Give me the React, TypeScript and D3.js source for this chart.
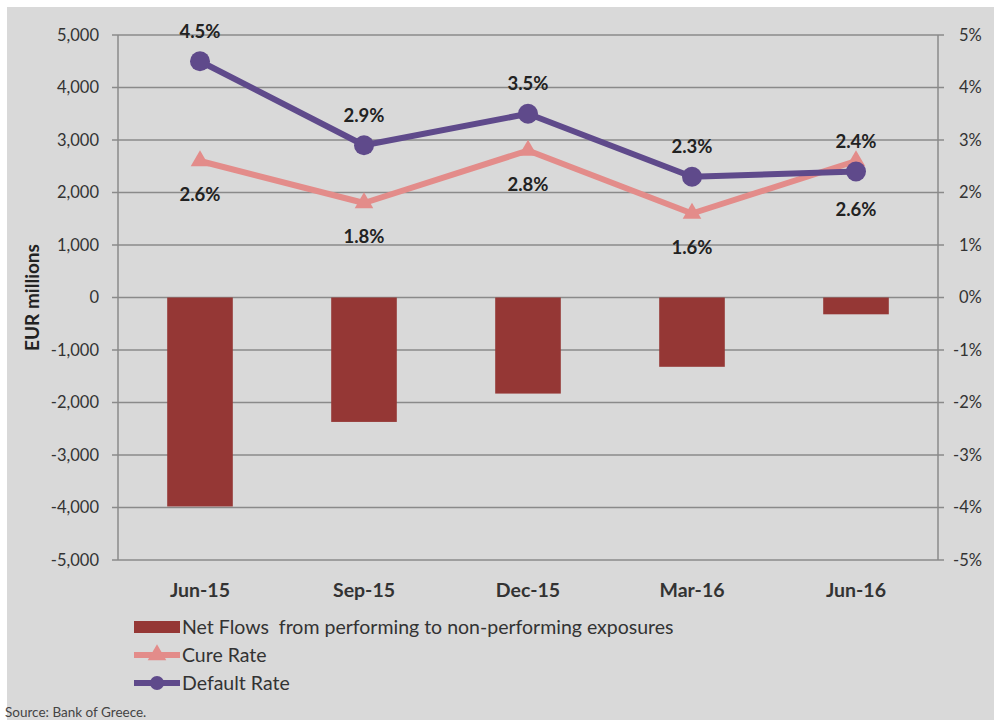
import React from "react";
import * as d3 from "d3";

const categories = ["Jun-15", "Sep-15", "Dec-15", "Mar-16", "Jun-16"];
const netFlows = [-3980, -2370, -1830, -1320, -320];
const cureRate = [2.6, 1.8, 2.8, 1.6, 2.6];
const defaultRate = [4.5, 2.9, 3.5, 2.3, 2.4];
const leftTicks = [5000, 4000, 3000, 2000, 1000, 0, -1000, -2000, -3000, -4000, -5000];
const rightTicks = [5, 4, 3, 2, 1, 0, -1, -2, -3, -4, -5];

const W = 994;
const H = 720;
const BG = "#d9d9d9";
const BAR = "#953735";
const CURE = "#e38c8a";
const DEF = "#5f4a8b";
const GRID = "#8a8a8a";
const FONT = "Lato, 'Open Sans', sans-serif";

export default function App() {
  const left = 118, right = 938, top = 35, bottom = 560;
  const x = d3.scaleBand<string>().domain(categories).range([left, right]).paddingInner(0.6).paddingOuter(0.3);
  const xc = d3.scalePoint<string>().domain(categories).range([left, right]).padding(0.5);
  const y = d3.scaleLinear().domain([-5000, 5000]).range([bottom, top]);
  const yr = d3.scaleLinear().domain([-5, 5]).range([bottom, top]);
  const line = d3.line<number>().x((_, i) => xc(categories[i])!).y((d) => yr(d));
  const fmt = (v: number) => d3.format(",")(v).replace("\u2212", "-");
  const tri = d3.symbol().type(d3.symbolTriangle).size(150)()!;

  return (
    <svg width={W} height={H} style={{ position: "absolute", left: 0, top: 0 }} fontFamily={FONT}>
      <rect x={0} y={0} width={W} height={H} fill="#ffffff" />
      <rect x={7} y={7} width={W - 7} height={H - 7} fill={BG} />
      {leftTicks.map((t) => (
        <g key={"g" + t}>
          <line x1={left - 6} x2={right + 6} y1={y(t)} y2={y(t)} stroke={GRID} strokeWidth={1.5} />
          <text x={99} y={y(t)} dy="0.35em" textAnchor="end" fontSize={16.5} fill="#333">{fmt(t)}</text>
        </g>
      ))}
      {rightTicks.map((t) => (
        <text key={"r" + t} x={t < 0 ? 953 : 959} y={yr(t)} dy="0.35em" textAnchor="start" fontSize={16.5} fill="#333">{t + "%"}</text>
      ))}
      <line x1={left} x2={left} y1={top} y2={bottom} stroke={GRID} strokeWidth={1.5} />
      <line x1={right} x2={right} y1={top} y2={bottom} stroke={GRID} strokeWidth={1.5} />
      {categories.map((c, i) => (
        <rect key={"b" + c} x={x(c)!} width={x.bandwidth()} y={y(Math.max(0, netFlows[i]))} height={Math.abs(y(netFlows[i]) - y(0))} fill={BAR} />
      ))}
      {categories.map((c) => (
        <text key={"c" + c} x={xc(c)!} y={590} dy="0.35em" textAnchor="middle" fontSize={19.5} fontWeight="bold" fill="#333">{c}</text>
      ))}
      <path d={line(cureRate)!} fill="none" stroke={CURE} strokeWidth={6} strokeLinejoin="round" />
      {cureRate.map((v, i) => (
        <path key={"t" + i} d={tri} transform={`translate(${xc(categories[i])},${yr(v)})`} fill={CURE} />
      ))}
      <path d={line(defaultRate)!} fill="none" stroke={DEF} strokeWidth={6} strokeLinejoin="round" />
      {defaultRate.map((v, i) => (
        <circle key={"d" + i} cx={xc(categories[i])!} cy={yr(v)} r={10} fill={DEF} />
      ))}
      {defaultRate.map((v, i) => (
        <text key={"dl" + i} x={xc(categories[i])!} y={yr(v) - 30} dy="0.35em" textAnchor="middle" fontSize={18.5} fontWeight="bold" fill="#222">{v.toFixed(1) + "%"}</text>
      ))}
      {cureRate.map((v, i) => (
        <text key={"cl" + i} x={xc(categories[i])!} y={yr(v) + (i === 4 ? 49 : 34)} dy="0.35em" textAnchor="middle" fontSize={18.5} fontWeight="bold" fill="#222">{v.toFixed(1) + "%"}</text>
      ))}
      <text transform={`translate(32,${(top + bottom) / 2}) rotate(-90)`} textAnchor="middle" dy="0.35em" fontSize={19} fontWeight="bold" fill="#222">EUR millions</text>
      <g>
        <rect x={134} y={621} width={46} height={12} fill={BAR} />
        <text x={182} y={627} dy="0.35em" fontSize={19.5} fill="#333" style={{ whiteSpace: "pre" }}>Net Flows  from performing to non-performing exposures</text>
        <line x1={134} x2={180} y1={655} y2={655} stroke={CURE} strokeWidth={6} />
        <path d={tri} transform="translate(157,655)" fill={CURE} />
        <text x={182} y={655} dy="0.35em" fontSize={19.5} fill="#333">Cure Rate</text>
        <line x1={134} x2={180} y1={683} y2={683} stroke={DEF} strokeWidth={6} />
        <circle cx={157} cy={683} r={7} fill={DEF} />
        <text x={182} y={683} dy="0.35em" fontSize={19.5} fill="#333">Default Rate</text>
      </g>
      <text x={5} y={712} dy="0.35em" fontSize={13.5} fill="#444">Source: Bank of Greece.</text>
    </svg>
  );
}
